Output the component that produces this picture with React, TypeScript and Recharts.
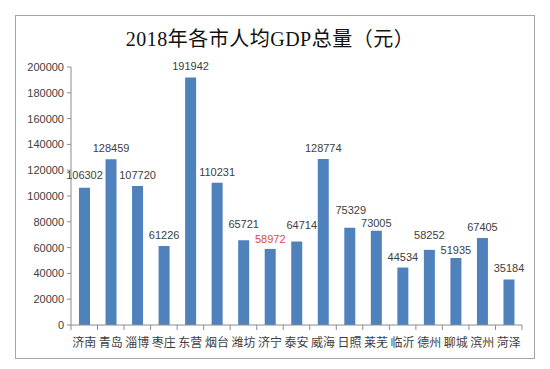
import React from "react";
import { BarChart, Bar, XAxis, YAxis, LabelList } from "recharts";

const cities = ["济南", "青岛", "淄博", "枣庄", "东营", "烟台", "潍坊", "济宁", "泰安", "威海", "日照", "莱芜", "临沂", "德州", "聊城", "滨州", "菏泽"];
const gdpPerCapita = [106302, 128459, 107720, 61226, 191942, 110231, 65721, 58972, 64714, 128774, 75329, 73005, 44534, 58252, 51935, 67405, 35184];
const yTicks = [0, 20000, 40000, 60000, 80000, 100000, 120000, 140000, 160000, 180000, 200000];
const highlightCity = "济宁";
const title = "2018年各市人均GDP总量（元）";

// manual label nudges (as in the original hand-placed labels)
const LABEL_NUDGE: Record<string, { dx: number; dy: number }> = {
  济南: { dx: 0, dy: -2 },
  潍坊: { dx: 0, dy: -5 },
  济宁: { dx: 0, dy: 1 },
  泰安: { dx: 5, dy: -6 },
  日照: { dx: 1, dy: -7 },
  莱芜: { dx: 0, dy: 3 },
  德州: { dx: 0, dy: -4 },
  聊城: { dx: 0, dy: 3 },
  菏泽: { dx: 0, dy: -1 },
};

const data = cities.map((c, i) => ({ city: c, value: gdpPerCapita[i] }));

const W = 550;
const H = 369;
const X_H = 30;
const M = { top: 67, right: 28, bottom: 44 - X_H, left: 11 };
const Y_W = 60;
const PLOT_W = W - M.left - M.right - Y_W;
const BAND = PLOT_W / cities.length;

const AXIS_COLOR = "#8c8c8c";
const TEXT_COLOR = "#404040";

const XTick = (props: any) => {
  const { x, y, payload, index } = props;
  const lx = x - BAND / 2;
  const rx = x + BAND / 2;
  return (
    <g>
      <line x1={lx} y1={y} x2={lx} y2={y + 5} stroke={AXIS_COLOR} strokeWidth={1} />
      {index === cities.length - 1 && (
        <line x1={rx} y1={y} x2={rx} y2={y + 5} stroke={AXIS_COLOR} strokeWidth={1} />
      )}
      <text
        x={x}
        y={y + 22}
        textAnchor="middle"
        fill={TEXT_COLOR}
        fontSize={12}
        fontFamily='"Noto Sans CJK SC", sans-serif'
      >
        {payload.value}
      </text>
    </g>
  );
};

const ValueLabel = (props: any) => {
  const { x, y, width, value, index } = props;
  const city = cities[index];
  const isHi = city === highlightCity;
  const n = LABEL_NUDGE[city] || { dx: 0, dy: 0 };
  return (
    <text
      x={x + width / 2 + n.dx}
      y={y - 7 + n.dy}
      textAnchor="middle"
      fill={isHi ? "#e0474c" : TEXT_COLOR}
      fontSize={11}
      fontFamily='"Liberation Sans", Arial, sans-serif'
    >
      {value}
    </text>
  );
};

export default function App() {
  return (
    <div style={{ position: "absolute", left: 0, top: 0, width: W, height: H, background: "#fff" }}>
      <div
        style={{
          position: "absolute",
          left: 15,
          top: 15,
          width: 518,
          height: 342,
          border: "1px solid #a6a6a6",
          boxSizing: "content-box",
        }}
      />
      <div
        style={{
          position: "absolute",
          left: 0,
          width: 540,
          top: 25,
          textAlign: "center",
          fontSize: 20,
          letterSpacing: 0.5,
          lineHeight: "28px",
          color: "#111",
          fontFamily: '"Liberation Serif", "Noto Sans CJK SC", serif',
        }}
      >
        {title}
      </div>
      <div style={{ position: "absolute", left: 0, top: 0 }}>
        <BarChart width={W} height={H} data={data} margin={M}>
          <XAxis
            dataKey="city"
            interval={0}
            height={X_H}
            tickLine={false}
            tickSize={0}
            tickMargin={0}
            axisLine={{ stroke: AXIS_COLOR }}
            tick={<XTick />}
          />
          <YAxis
            width={Y_W}
            domain={[0, 200000]}
            ticks={yTicks}
            interval={0}
            tickSize={4}
            tickMargin={3}
            axisLine={{ stroke: AXIS_COLOR }}
            tickLine={{ stroke: AXIS_COLOR }}
            tick={{ fill: TEXT_COLOR, fontSize: 11, fontFamily: '"Liberation Sans", Arial, sans-serif' }}
          />
          <Bar dataKey="value" fill="#4f81bd" barSize={11} isAnimationActive={false}>
            <LabelList dataKey="value" content={<ValueLabel />} />
          </Bar>
        </BarChart>
      </div>
    </div>
  );
}
